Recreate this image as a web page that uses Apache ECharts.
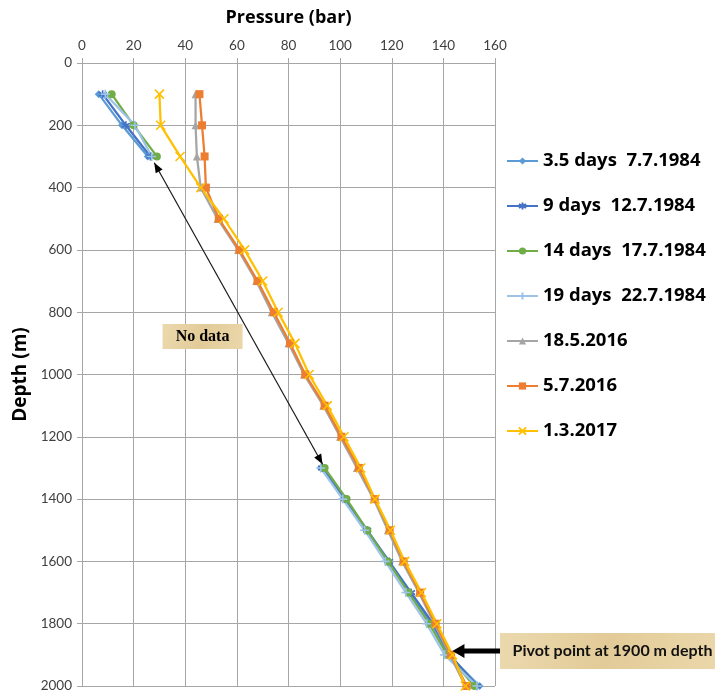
<!DOCTYPE html>
<html>
<head>
<meta charset="utf-8">
<script src="https://cdn.jsdelivr.net/npm/echarts@6/dist/echarts.min.js"></script>
<style>
  html, body { margin: 0; padding: 0; background: #ffffff; }
  #chart { width: 718px; height: 693px; }
</style>
</head>
<body>
<div id="chart"></div>
<script>
// Depth levels (m) at which pressures were logged
const depths = [100, 200, 300, 400, 500, 600, 700, 800, 900, 1000,
                1100, 1200, 1300, 1400, 1500, 1600, 1700, 1800, 1900, 2000];

// Pressure (bar) per depth; null = no measurement at that depth
const days3_5 = [6.5, 15.5, 25.5, null, null, null, null, null, null, null,
                 null, null, 92.5, 101.5, 110, 118.5, 127, 135.5, 142, 154];
const days9   = [8, 17, 26.5, null, null, null, null, null, null, null,
                 null, null, 93, 102, 110.5, 119, 127.5, 136, 142.5, 153];
const days14  = [11.5, 20, 29, null, null, null, null, null, null, null,
                 null, null, 94, 102.5, 110.5, 118.5, 126.5, 134.5, 141.5, 152];
const days19  = [9, 20.5, 27, null, null, null, null, null, null, null,
                 null, null, 92.5, 101, 109.5, 117.5, 125.5, 133.5, 140.5, 153];
const may2016 = [44, 44, 44.5, 46, 52.5, 60.5, 67.5, 73.5, 80, 86,
                 93.5, 100, 106.5, 113, 118.5, 124, 130.5, 136.5, 142.5, 148.5];
const jul2016 = [45.5, 46.5, 47.5, 48, 53, 61, 68, 74.3, 80.6, 86.5,
                 94, 100.5, 107.3, 113.4, 119.2, 124.6, 131, 137, 143, 149];
const mar2017 = [30, 30.5, 38, 46, 55, 63, 70, 76, 82.5, 88,
                 95, 101.5, 108, 113.5, 119.5, 125, 131.5, 137.5, 143.5, 148.5];

const seriesNames = ['3.5 days  7.7.1984', '9 days  12.7.1984', '14 days  17.7.1984',
                     '19 days  22.7.1984', '18.5.2016', '5.7.2016', '1.3.2017'];
const seriesValues = [days3_5, days9, days14, days19, may2016, jul2016, mar2017];
const seriesColors = ['#5B9BD5', '#4472C4', '#70AD47', '#9DC3E6', '#A5A5A5', '#ED7D31', '#FFC000'];

const xTicks = { min: 0, max: 160, interval: 20 };
const yTicks = { min: 0, max: 2000, interval: 200 };

// Marker shapes (stroked paths for the cross-style markers)
const STAR = 'path://M5,0 L5,10 M0.7,2.5 L9.3,7.5 M0.7,7.5 L9.3,2.5';
const PLUS = 'path://M5,0 L5,10 M0,5 L10,5';
const CROSS = 'path://M0,0 L10,10 M10,0 L0,10';
const symbols = ['diamond', STAR, 'circle', PLUS, 'triangle', 'rect', CROSS];
const symbolSizes = [8, 8, 8, 9, 8, 8, 9];
const stroked = [false, true, false, true, false, false, true];

const FONT = '"Open Sans", Lato, sans-serif';
const TICK_FONT = 'Lato, "Open Sans", sans-serif';

const series = seriesNames.map((name, k) => ({
  name: name,
  type: 'line',
  data: depths.map((d, i) => [seriesValues[k][i] == null ? '-' : seriesValues[k][i], d]),
  connectNulls: false,
  symbol: symbols[k],
  symbolSize: symbolSizes[k],
  showAllSymbol: true,
  clip: false,
  lineStyle: { color: seriesColors[k], width: 2.25 },
  itemStyle: stroked[k]
    ? { color: seriesColors[k], borderColor: seriesColors[k], borderWidth: 1.6 }
    : { color: seriesColors[k], borderWidth: 0 },
  emphasis: { disabled: true }
}));

const chart = echarts.init(document.getElementById('chart'), null, { renderer: 'canvas' });

chart.setOption({
  animation: false,
  backgroundColor: '#ffffff',
  grid: { left: 82, right: 223, top: 63, bottom: 6, containLabel: false },
  xAxis: {
    type: 'value',
    position: 'top',
    min: xTicks.min, max: xTicks.max, interval: xTicks.interval,
    name: 'Pressure (bar)',
    nameLocation: 'middle',
    nameGap: 36,
    nameTextStyle: { fontFamily: FONT, fontWeight: 'bold', fontSize: 18, color: '#000' },
    axisLine: { show: true, lineStyle: { color: '#A6A6A6', width: 1 } },
    axisTick: { show: true, length: 5, lineStyle: { color: '#A6A6A6' } },
    axisLabel: { fontFamily: TICK_FONT, fontSize: 13.5, color: '#404040', margin: 10 },
    splitLine: { show: true, lineStyle: { color: '#A6A6A6', width: 1 } }
  },
  yAxis: {
    type: 'value',
    inverse: true,
    min: yTicks.min, max: yTicks.max, interval: yTicks.interval,
    name: 'Depth (m)',
    nameLocation: 'middle',
    nameGap: 52,
    nameRotate: 90,
    nameTextStyle: { fontFamily: FONT, fontWeight: 'bold', fontSize: 19, color: '#000' },
    axisLine: { show: true, lineStyle: { color: '#A6A6A6', width: 1 } },
    axisTick: { show: true, length: 5, lineStyle: { color: '#A6A6A6' } },
    axisLabel: { fontFamily: TICK_FONT, fontSize: 13.5, color: '#404040', margin: 10,
                 formatter: v => String(v) },
    splitLine: { show: true, lineStyle: { color: '#A6A6A6', width: 1 } }
  },
  legend: {
    orient: 'vertical',
    left: 501,
    top: 146,
    itemWidth: 31,
    itemHeight: 9,
    itemGap: 25,
    data: seriesNames,
    textStyle: { fontFamily: FONT, fontWeight: 'bold', fontSize: 18.5, color: '#000', lineHeight: 20 }
  },
  series: series
});

// Annotations placed from data coordinates
function px(p, d) { return chart.convertToPixel({ gridIndex: 0 }, [p, d]); }

function arrowHead(tip, from, len, half) {
  const dx = tip[0] - from[0], dy = tip[1] - from[1];
  const L = Math.hypot(dx, dy), ux = dx / L, uy = dy / L;
  const bx = tip[0] - ux * len, by = tip[1] - uy * len;
  return [tip, [bx - uy * half, by + ux * half], [bx + uy * half, by - ux * half]];
}

const gapStart = px(28, 320);    // end of the shallow 1984 readings
const gapEnd = px(93.2, 1288);   // start of the deep 1984 readings
const noDataCenter = px(46.7, 878);
const pivotTip = px(143.5, 1888);

const parchment = () => new echarts.graphic.LinearGradient(0, 0, 1, 1, [
  { offset: 0, color: '#EBD9AE' }, { offset: 0.5, color: '#E3CB98' }, { offset: 1, color: '#EAD7AA' }
]);

const graphics = [];
// double-headed arrow spanning the missing 1984 interval
graphics.push({
  type: 'line', z: 100,
  shape: { x1: gapStart[0], y1: gapStart[1], x2: gapEnd[0], y2: gapEnd[1] },
  style: { stroke: '#1a1a1a', lineWidth: 1.2 }
});
graphics.push({ type: 'polygon', z: 100, shape: { points: arrowHead(gapStart, gapEnd, 10, 4) }, style: { fill: '#000' } });
graphics.push({ type: 'polygon', z: 100, shape: { points: arrowHead(gapEnd, gapStart, 10, 4) }, style: { fill: '#000' } });

// "No data" label
graphics.push({
  type: 'rect', z: 100,
  shape: { x: noDataCenter[0] - 40, y: noDataCenter[1] - 12.5, width: 80, height: 25 },
  style: { fill: parchment() }
});
graphics.push({
  type: 'text', z: 101,
  x: noDataCenter[0], y: noDataCenter[1],
  style: { text: 'No data', fontFamily: '"Liberation Serif", serif', fontWeight: 'bold', fontSize: 16,
           fill: '#000', align: 'center', verticalAlign: 'middle' }
});

// Pivot point label and thick arrow
const boxX = 500, boxY = 633, boxW = 215, boxH = 36;
graphics.push({
  type: 'rect', z: 100,
  shape: { x: boxX, y: boxY, width: boxW, height: boxH },
  style: { fill: parchment() }
});
graphics.push({
  type: 'text', z: 101,
  x: boxX + boxW / 2 + 5, y: boxY + boxH / 2,
  style: { text: 'Pivot point at 1900 m depth', fontFamily: TICK_FONT, fontWeight: 'bold', fontSize: 16,
           fill: '#111', align: 'center', verticalAlign: 'middle' }
});
const tail = [boxX, pivotTip[1]];
graphics.push({
  type: 'line', z: 100,
  shape: { x1: tail[0], y1: tail[1], x2: pivotTip[0] + 10, y2: pivotTip[1] },
  style: { stroke: '#000', lineWidth: 5 }
});
graphics.push({ type: 'polygon', z: 100, shape: { points: arrowHead(pivotTip, tail, 12, 7) }, style: { fill: '#000' } });

chart.setOption({ graphic: graphics });
</script>
</body>
</html>
